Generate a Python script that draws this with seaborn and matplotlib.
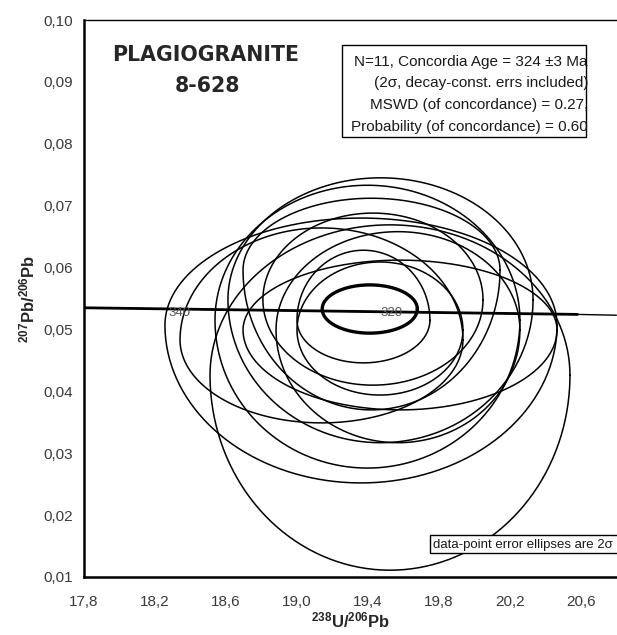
import numpy as np
import pandas as pd
import matplotlib
matplotlib.use("Agg")
import matplotlib.pyplot as plt
import seaborn as sns
from matplotlib.patches import Rectangle
from matplotlib.ticker import MultipleLocator, FuncFormatter

# ---------------- data ----------------
# data-point error ellipses: left / right extent (238U/206Pb), height of side vertices,
# top and bottom extent (207Pb/206Pb)
ell_left = [18.256, 18.510, 18.611, 18.538, 18.696, 18.808, 18.341, 19.000, 18.696, 18.882, 19.000]
ell_right = [20.465, 20.538, 20.330, 20.256, 20.144, 20.048, 19.935, 19.749, 20.465, 20.256, 19.935]
ell_mid = [0.0507, 0.0426, 0.0548, 0.0515, 0.0596, 0.0548, 0.0483, 0.0515, 0.0499, 0.0499, 0.0499]
ell_top = [0.0680, 0.0669, 0.0745, 0.0733, 0.0712, 0.0688, 0.0664, 0.0628, 0.0612, 0.0658, 0.0609]
ell_bottom = [0.0252, 0.0111, 0.0317, 0.0276, 0.0370, 0.0410, 0.0349, 0.0446, 0.0370, 0.0317, 0.0394]

# concordia age ellipse
age_x, age_y, age_a, age_b = 19.41, 0.0533, 0.268, 0.0039

conc_x = [17.8, 20.58, 20.8]
conc_y = [0.0535, 0.05243, 0.0523]
age_labels = ["340", "320"]
age_label_x = [18.34, 19.535]
age_label_y = [0.0527, 0.0527]

x_ticks = [17.8, 18.2, 18.6, 19.0, 19.4, 19.8, 20.2, 20.6]
y_ticks = [0.01, 0.02, 0.03, 0.04, 0.05, 0.06, 0.07, 0.08, 0.09, 0.10]

legend_lines = ["N=11, Concordia Age = 324 \u00b13 Ma",
                "(2\u03c3, decay-const. errs included)",
                "MSWD (of concordance) = 0.27,",
                "Probability (of concordance) = 0.60"]
title_lines = ["PLAGIOGRANITE", "8-628"]
note_text = "data-point error ellipses are 2\u03c3"

# ---------------- style ----------------
sns.set_style("white")
plt.rcParams["font.family"] = ["Liberation Sans", "DejaVu Sans"]
plt.rcParams["mathtext.fontset"] = "custom"
plt.rcParams["mathtext.bf"] = "Liberation Sans:bold"
plt.rcParams["mathtext.rm"] = "Liberation Sans:bold"
plt.rcParams["mathtext.default"] = "bf"

W, H = 617, 635
fig = plt.figure(figsize=(W / 100, H / 100), dpi=100)
ax = fig.add_axes([84 / W, 58 / H, (617 - 84) / W, 557 / H])

# build outlines: upper and lower halves of each ellipse
t = np.linspace(0, 2 * np.pi, 300)
rows = []
for i, (l, r, m, tp, bt) in enumerate(zip(ell_left, ell_right, ell_mid, ell_top, ell_bottom)):
    cx, a = (l + r) / 2, (r - l) / 2
    sn = np.sin(t)
    yy = np.where(sn >= 0, m + (tp - m) * sn, m + (m - bt) * sn)
    xx = cx + a * np.cos(t)
    for x_, y_ in zip(xx, yy):
        rows.append((i, x_, y_))
df = pd.DataFrame(rows, columns=["id", "x", "y"])
sns.lineplot(data=df, x="x", y="y", units="id", estimator=None, sort=False,
             color="black", lw=1.1, ax=ax, legend=False)

# concordia age ellipse
age_df = pd.DataFrame({"x": age_x + age_a * np.cos(t), "y": age_y + age_b * np.sin(t)})
sns.lineplot(data=age_df, x="x", y="y", sort=False, estimator=None,
             color="black", lw=2.4, ax=ax)

# concordia
cdf = pd.DataFrame({"x": conc_x, "y": conc_y})
sns.lineplot(data=cdf, x="x", y="y", sort=False, estimator=None, color="black", lw=1.0, ax=ax)
sns.lineplot(data=cdf.iloc[:2], x="x", y="y", sort=False, estimator=None, color="black", lw=2.0, ax=ax)
for lab, lx, ly in zip(age_labels, age_label_x, age_label_y):
    ax.text(lx, ly, lab, fontsize=9.5, color="#555555", ha="center", va="center")

ax.set_xlim(17.8, 20.803)
ax.set_ylim(0.01, 0.10)
ax.set_xticks(x_ticks)
ax.set_yticks(y_ticks)
ax.xaxis.set_minor_locator(MultipleLocator(0.2))
ax.yaxis.set_minor_locator(MultipleLocator(0.005))
ax.xaxis.set_major_formatter(FuncFormatter(lambda v, p: f"{v:.1f}".replace(".", ",")))
ax.yaxis.set_major_formatter(FuncFormatter(lambda v, p: f"{v:.2f}".replace(".", ",")))
ax.tick_params(which="both", direction="in", length=4, width=1.2, colors="black",
               labelcolor="#3a3a3a", labelsize=11)
ax.tick_params(axis="x", pad=13)
ax.tick_params(axis="y", pad=8)
ax.tick_params(which="both", top=False, right=False)

for s_name in ["left", "bottom"]:
    ax.spines[s_name].set_linewidth(1.8)
    ax.spines[s_name].set_color("black")
ax.spines["top"].set_linewidth(1.0)
ax.spines["top"].set_color("black")
ax.spines["right"].set_visible(False)

ax.set_xlabel("$^{238}$U/$^{206}$Pb", fontsize=12, fontweight="bold", labelpad=1)
ax.set_ylabel("$^{207}$Pb/$^{206}$Pb", fontsize=12, fontweight="bold", labelpad=4)

# title
ax.text((206 - 84) / 533, 1 - (55 - 20) / 557, title_lines[0], transform=ax.transAxes,
        fontsize=14.8, fontweight="bold", ha="center", va="center", family="DejaVu Sans")
ax.text((207 - 84) / 533, 1 - (86 - 20) / 557, title_lines[1], transform=ax.transAxes,
        fontsize=14.8, fontweight="bold", ha="center", va="center", family="DejaVu Sans")

# statistics box
ax.add_patch(Rectangle(((342 - 84) / 533, 1 - (137 - 20) / 557), (586 - 342) / 533, (137 - 45) / 557,
                       transform=ax.transAxes, fill=False, ec="black", lw=1.0, zorder=5))
for k, line in enumerate(legend_lines):
    ax.text((588 - 84) / 533, 1 - (62 + 21.5 * k - 20) / 557, line, transform=ax.transAxes,
            fontsize=11, ha="right", va="center", color="#1a1a1a", zorder=6)

# note box (cut by the right edge)
ax.add_patch(Rectangle(((430 - 84) / 533, 1 - (553 - 20) / 557), (640 - 430) / 533, 18 / 557,
                       transform=ax.transAxes, fill=True, fc="white", ec="black", lw=1.0,
                       zorder=5, clip_on=False))
ax.text((433 - 84) / 533, 1 - (545 - 20) / 557, note_text, transform=ax.transAxes,
        fontsize=9.5, ha="left", va="center", color="#1a1a1a", zorder=6)

fig.savefig("out.png", dpi=100)
